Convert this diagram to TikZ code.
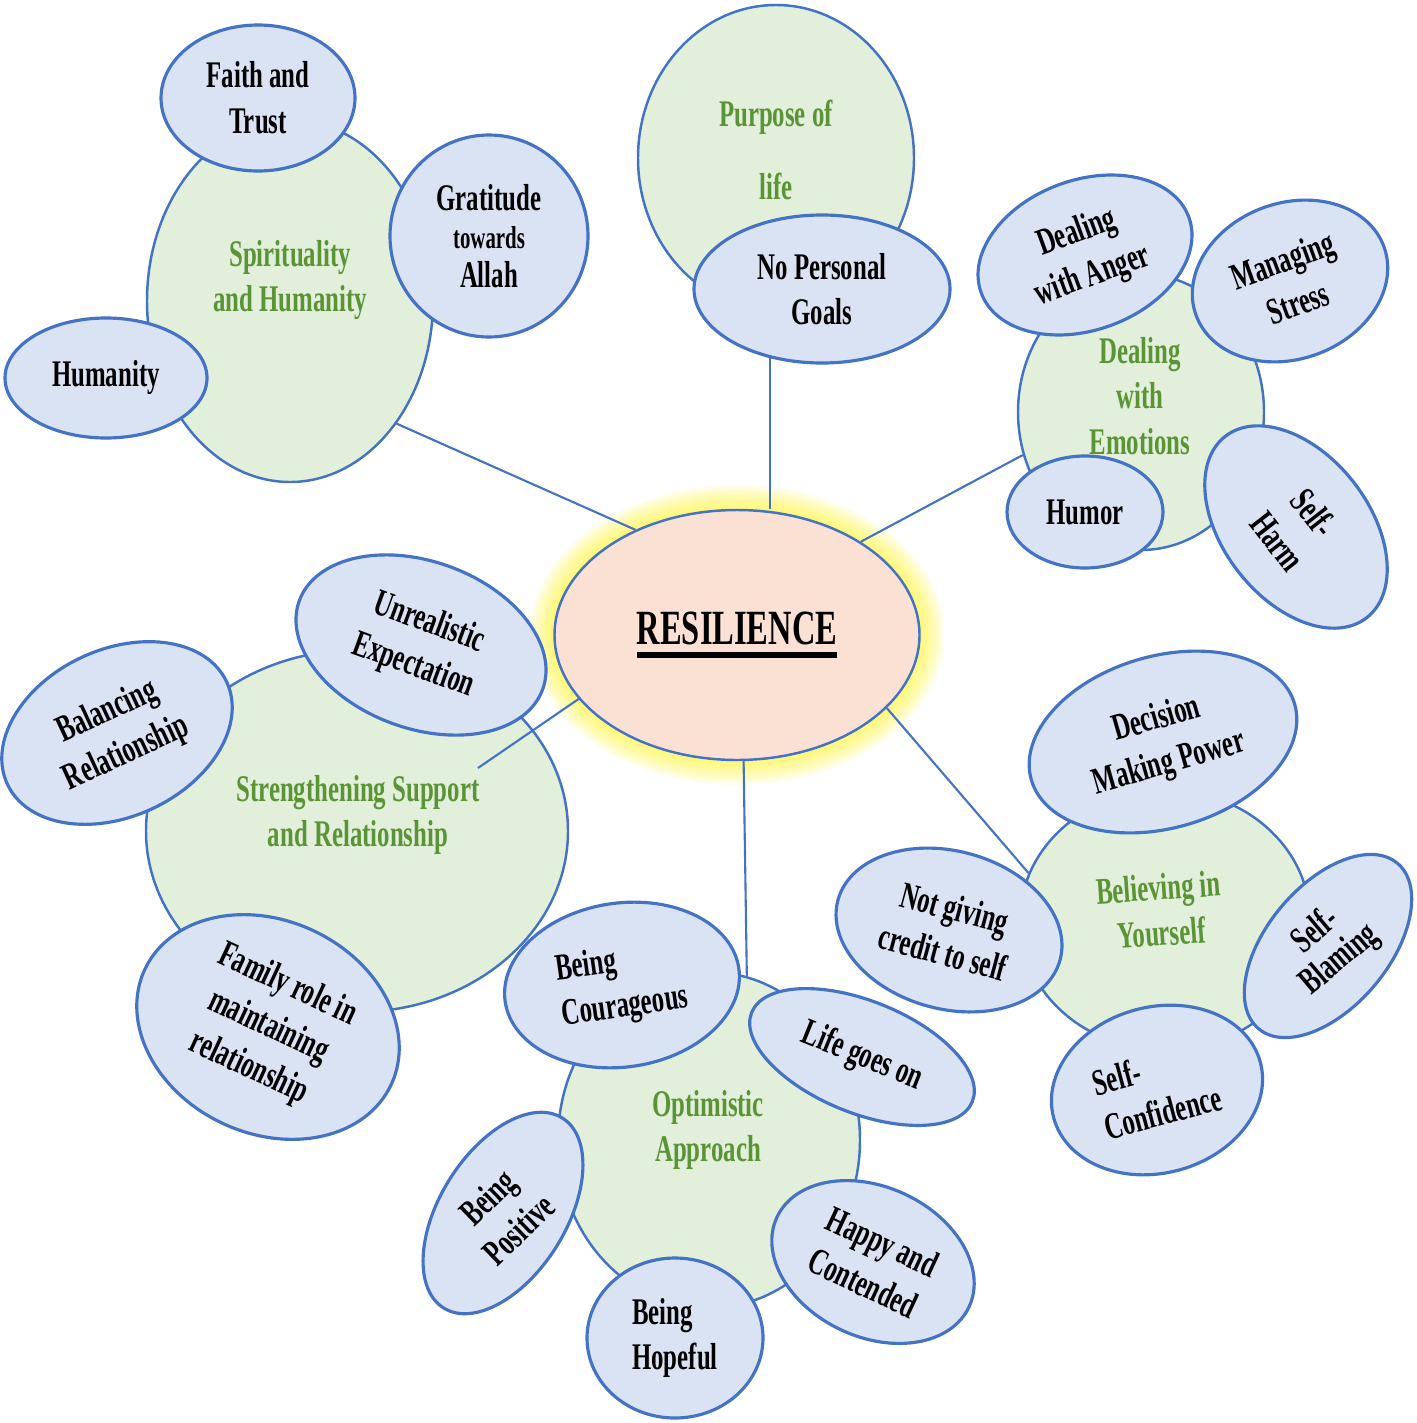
\documentclass[tikz,border=0pt]{standalone}
\usepackage{fontspec}
\usepackage{xcolor}
\usepackage{graphicx}
\usepackage{tikz}
\usetikzlibrary{shapes.geometric,backgrounds}

\newfontfamily\narrowserif[FakeStretch=0.66]{Liberation Serif}

\definecolor{edgeblue}{HTML}{4472C4}
\definecolor{bubblefill}{HTML}{DAE3F3}
\definecolor{greenfill}{HTML}{E2EFDA}
\definecolor{greentext}{HTML}{5A9437}
\definecolor{corefill}{HTML}{FAE1D3}
\definecolor{glowyellow}{HTML}{FFF000}

% heavy underline for the core word
\newcommand{\resul}[1]{\setbox0=\hbox{#1}\leavevmode\rlap{\rule[-3.7pt]{\wd0}{1.7pt}}\box0}

\begin{document}
\begin{tikzpicture}[
    font=\narrowserif\bfseries\fontsize{10.7}{13}\selectfont,
    theme/.style={
        ellipse,
        draw=edgeblue,
        fill=greenfill,
        line width=0.7pt,
        inner sep=0pt
    },
    themetext/.style={
        align=center,
        text=greentext
    },
    bubble/.style={
        ellipse,
        draw=edgeblue,
        fill=bubblefill,
        line width=0.9pt,
        inner sep=0pt,
        align=center
    },
    core/.style={
        ellipse,
        draw=edgeblue,
        fill=corefill,
        line width=0.7pt,
        inner sep=0pt,
        minimum width=3.65cm,
        minimum height=2.5cm,
        font=\narrowserif\bfseries\fontsize{14}{16}\selectfont
    },
    link/.style={draw=edgeblue, line width=0.6pt}
]

\useasboundingbox (0,0) rectangle (14.16,-14.23);

% theme circles
\node[theme, minimum width=2.86cm, minimum height=3.62cm] (spirit) at (2.90,-3.01) {};
\node[theme, minimum width=2.76cm, minimum height=3.06cm] (purpose) at (7.76,-1.58) {};
\node[theme, minimum width=2.46cm, minimum height=2.76cm] (emotion) at (11.41,-4.12) {};
\node[theme, minimum width=4.22cm, minimum height=3.62cm] (support) at (3.57,-8.31) {};
\node[theme, minimum width=3.02cm, minimum height=3.36cm] (optim) at (7.09,-11.40) {};
\node[theme, minimum width=2.90cm, minimum height=2.60cm] (believe) at (11.65,-9.20) {};

\node[themetext] (spirit-t) at (2.90,-2.80) {Spirituality\\and Humanity};
\node[themetext] (purpose-t) at (7.76,-1.50) {Purpose of\\[8pt]life};
\node[themetext] (emotion-t) at (11.40,-3.96) {Dealing\\with\\Emotions};
\node[themetext] (support-t) at (3.58,-8.15) {Strengthening Support\\and Relationship};
\node[themetext] (optim-t) at (7.08,-11.30) {Optimistic\\Approach};
\node[themetext, rotate=4] (believe-t) at (11.60,-9.10) {Believing in\\Yourself};

% core
\node[core] (res) at (7.37,-6.35) {\resul{RESILIENCE}};

\begin{pgfonlayer}{background}
\foreach \g in {1,...,10}
    \fill[glowyellow, opacity=0.07] (res.center) ellipse ({1.825+0.025*\g} and {1.25+0.025*\g});
\end{pgfonlayer}

% links
\coordinate (supportend) at (4.78,-7.68);
\draw[link] (res.134) -- (spirit.-49);
\draw[link] (res.37) -- (emotion.-160);
\draw[link] (res.202) -- (supportend);
\draw[link] (res.-87) -- (optim.77);
\draw[link] (res.-26) -- (believe.161);

% spirituality
\node[bubble, minimum width=1.94cm, minimum height=1.46cm] (faith) at (2.58,-0.98) {Faith and\\Trust};
\node[bubble, minimum width=1.98cm, minimum height=2.02cm] (gratitude) at (4.89,-2.36)
{Gratitude\\[-2pt]{\fontsize{9}{11}\selectfont towards}\\[-2pt]Allah};
\node[bubble, minimum width=2.02cm, minimum height=1.20cm] (humanity) at (1.06,-3.78) {Humanity};

% purpose
\node[bubble, minimum width=2.56cm, minimum height=1.48cm] (goals) at (8.22,-2.89) {No Personal\\Goals};
\draw[link] (res.north -| goals.-127) -- (goals.-127);

% emotions
\node[bubble, minimum width=2.21cm, minimum height=1.50cm, rotate=20] (anger) at (10.85,-2.55) {Dealing\\with Anger};
\node[bubble, minimum width=2.00cm, minimum height=1.56cm, rotate=20] (stress) at (12.90,-2.81) {Managing\\Stress};
\node[bubble, minimum width=1.56cm, minimum height=1.12cm] (humor) at (10.85,-5.12) {Humor};
\node[bubble, minimum width=2.30cm, minimum height=1.46cm, rotate=-52] (harm) at (12.96,-5.27) {Self-\\Harm};

% support
\node[bubble, minimum width=2.59cm, minimum height=1.67cm, rotate=-20] (unreal) at (4.21,-6.45) {Unrealistic\\Expectation};
\node[bubble, minimum width=2.42cm, minimum height=1.67cm, rotate=25] (balance) at (1.17,-7.33) {Balancing\\Relationship};
\node[bubble, minimum width=2.72cm, minimum height=2.13cm, rotate=-25] (family) at (2.68,-10.27)
{Family role in\\maintaining\\relationship};

% optimism
\node[bubble, minimum width=2.36cm, minimum height=1.64cm, rotate=8, align=left] (courage) at (6.22,-9.85) {Being\\Courageous};
\node[bubble, minimum width=2.38cm, minimum height=1.12cm, rotate=-22] (lifegoes) at (8.62,-10.57) {Life goes on};
\node[bubble, minimum width=2.24cm, minimum height=1.17cm, rotate=58] (positive) at (5.03,-12.13)
{\rotatebox{-14}{\shortstack{Being\\Positive}}};
\node[bubble, minimum width=1.76cm, minimum height=1.60cm, align=left] (hopeful) at (6.75,-13.38) {Being\\Hopeful};
\node[bubble, minimum width=2.12cm, minimum height=1.50cm, rotate=-25] (happy) at (8.73,-12.62) {Happy and\\Contended};

% believing
\node[bubble, minimum width=2.74cm, minimum height=1.72cm, rotate=16] (decision) at (11.63,-7.42) {Decision\\Making Power};
\node[bubble, minimum width=2.30cm, minimum height=1.58cm, rotate=-15] (credit) at (9.49,-9.30) {Not giving\\credit to self};
\node[bubble, minimum width=2.16cm, minimum height=1.18cm, rotate=50] (blaming) at (13.28,-9.46)
{\rotatebox{-10}{\shortstack{Self-\\Blaming}}};
\node[bubble, minimum width=2.14cm, minimum height=1.66cm, rotate=15, align=left] (confid) at (11.57,-10.90) {Self-\\Confidence};

\end{tikzpicture}
\end{document}
